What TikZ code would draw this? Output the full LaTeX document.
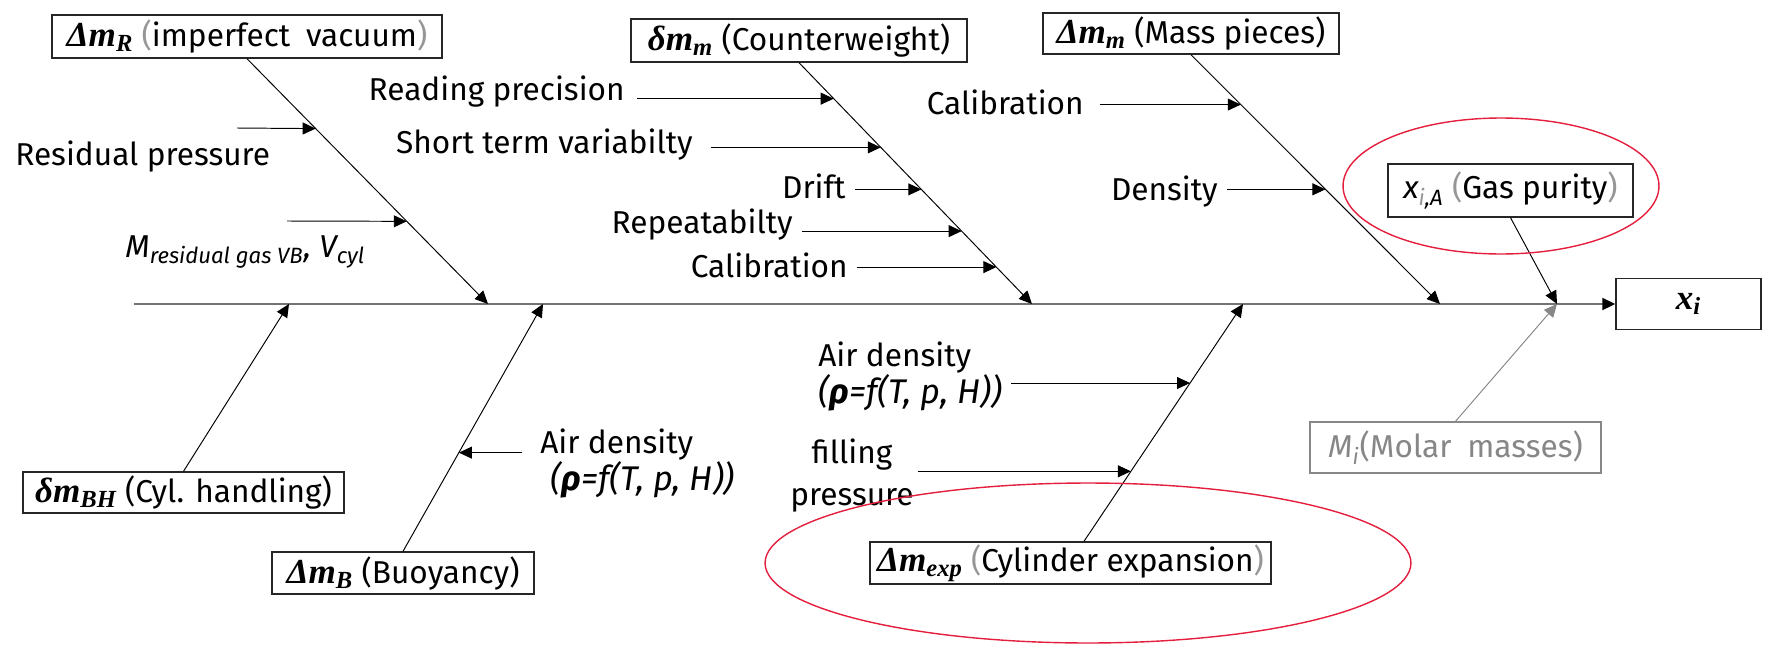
\documentclass[tikz,border=0pt]{standalone}
\usepackage{fontspec}
\setmainfont{Fira Sans}
\newfontfamily\boxserif{Liberation Serif}
\usetikzlibrary{arrows.meta, positioning, calc}

\definecolor{spinegray}{RGB}{115,115,115}
\definecolor{softgray}{RGB}{135,135,135}
\definecolor{parengray}{RGB}{150,150,150}
\definecolor{ringred}{RGB}{228,30,60}

\newcommand{\causesym}[2]{{\boxserif\fontsize{20}{22}\selectfont\bfseries\itshape #1\textsubscript{#2}}}
\newcommand{\gp}[1]{{\color{parengray}#1}}

\begin{document}
\begin{tikzpicture}[
    x = 0.02cm, y = -0.02cm,
    lbl/.style   = { font=\fontsize{18}{20}\selectfont, inner sep=0pt },
    cause/.style = { lbl, draw=black!85, line width=0.8pt, align=center },
    tip/.style   = { -{Triangle[length=7.4pt, width=6.8pt]} },
    spine/.style = { -{Triangle[length=7.4pt, width=6.8pt, color=black]},
                     draw=spinegray, line width=1.1pt },
    bone/.style  = { tip, draw=black, line width=0.55pt },
    ring/.style  = { draw=ringred, line width=0.8pt },
    airnote/.style = { lbl, font=\fontsize{18}{17}\selectfont, align=left, anchor=north west },
]

\useasboundingbox (0,0) rectangle (1791,646);

%% ── Cause boxes ──────────────────────────────────────────────────────────
\node[cause, minimum width=7.80cm, minimum height=0.86cm] (dmR) at (247,36.5)
    {\causesym{Δm}{R} \gp{(}imperfect\enspace vacuum\gp{)}};
\node[cause, minimum width=6.72cm, minimum height=0.86cm] (dmm) at (799,40.5)
    {\causesym{δm}{m} (Counterweight)};
\node[cause, minimum width=5.92cm, minimum height=0.82cm] (Dmm) at (1191,33.5)
    {\causesym{Δm}{m} (Mass pieces)};
\node[cause, minimum width=4.90cm, minimum height=1.06cm] (xiA) at (1510.5,190.5)
    {{\itshape x\textsubscript{\gp{i},A}} \gp{(}Gas purity\gp{)}};
\node[cause, minimum width=2.90cm, minimum height=1.02cm] (xi) at (1688.5,304)
    {\causesym{x}{i}};
\node[cause, draw=softgray, text=softgray, minimum width=5.82cm, minimum height=1.02cm] (Mi) at (1455.5,447.5)
    {{\itshape M\textsubscript{i}}(Molar\enspace masses)};
\node[cause, minimum width=8.02cm, minimum height=0.84cm] (dmexp) at (1070.5,563)
    {\causesym{Δm}{exp} \gp{(}Cylinder expansion\gp{)}};
\node[cause, minimum width=5.24cm, minimum height=0.84cm] (dmB) at (403,573)
    {\causesym{Δm}{B} (Buoyancy)};
\node[cause, minimum width=6.42cm, minimum height=0.82cm] (dmBH) at (183.5,492.5)
    {\causesym{δm}{BH} (Cyl. handling)};

%% ── Spine and joints ─────────────────────────────────────────────────────
\coordinate (head) at (134,304);
\coordinate (jBH)  at (289,304);
\coordinate (jR)   at (488,304);
\coordinate (jB)   at (543,304);
\coordinate (jm)   at (1032,304);
\coordinate (jexp) at (1243,304);
\coordinate (jM)   at (1440,304);
\coordinate (jA)   at (1557,304);
\coordinate (exptop) at ($(dmexp.north)+(13.5,0)$);

\draw[spine] (head) -- (xi.west);

%% ── Bones ────────────────────────────────────────────────────────────────
\draw[bone] (dmR.south) -- (jR);
\draw[bone] (dmm.south) -- (jm);
\draw[bone] (Dmm.south) -- (jM);
\draw[bone] (xiA.south) -- (jA);
\draw[bone, draw=softgray] (Mi.north) -- (jA);
\draw[bone] (exptop) -- (jexp);
\draw[bone] (dmB.north) -- (jB);
\draw[bone] (dmBH.north) -- (jBH);

\path (dmR.south) -- (jR) coordinate[pos=0.285] (bR1) coordinate[pos=0.663] (bR2);
\path (dmm.south) -- (jm) coordinate[pos=0.149] (bm1) coordinate[pos=0.351] (bm2)
    coordinate[pos=0.525] (bm3) coordinate[pos=0.698] (bm4) coordinate[pos=0.847] (bm5);
\path (Dmm.south) -- (jM) coordinate[pos=0.2] (bM1) coordinate[pos=0.54] (bM2);
\path (dmB.north) -- (jB) coordinate[pos=0.399] (bB1);
\path (exptop) -- (jexp) coordinate[pos=0.667] (bx1) coordinate[pos=0.295] (bx2);

%% ── Sub-causes ───────────────────────────────────────────────────────────
\node[lbl, anchor=base west] (lRes)  at (15,165)   {Residual pressure};
\node[lbl, anchor=base west] (lMres) at (125,257)
    {\itshape M\textsubscript{residual gas VB}, V\textsubscript{cyl}};
\node[lbl, anchor=base east] (lRead)  at (625,100)  {Reading precision};
\node[lbl, anchor=base east] (lShort) at (693,153)  {Short term variabilty};
\node[lbl, anchor=base east] (lDrift) at (846,198)  {Drift};
\node[lbl, anchor=base east] (lRep)   at (793,233)  {Repeatabilty};
\node[lbl, anchor=base east] (lCal1)  at (848,277)  {Calibration};
\node[lbl, anchor=base east] (lCal2)  at (1084,114) {Calibration};
\node[lbl, anchor=base east] (lDens)  at (1218,200) {Density};
\node[airnote] (lAirL) at (540,428)
    {Air density\\\hspace*{6pt}{\fontsize{19.5}{17}\selectfont\itshape(\textbf{ρ}=f(T, p, H))}};
\node[airnote] (lAirR) at (818,341)
    {Air density\\{\fontsize{19.5}{17}\selectfont\itshape(\textbf{ρ}=f(T, p, H))}};
\node[lbl, font=\fontsize{18}{24}\selectfont, align=center, anchor=north] (lFill) at (852,438)
    {filling\\pressure};

\coordinate (tR1) at (237,128);
\coordinate (tR2) at (287,221);

\draw[bone] (tR1) -- (bR1);
\draw[bone] (tR2) -- (bR2);
\draw[bone] ([xshift=7pt]lRead.east |- bm1)  -- (bm1);
\draw[bone] ([xshift=10pt]lShort.east |- bm2) -- (bm2);
\draw[bone] ([xshift=5pt]lDrift.east |- bm3) -- (bm3);
\draw[bone] ([xshift=5pt]lRep.east |- bm4)   -- (bm4);
\draw[bone] ([xshift=5pt]lCal1.east |- bm5)  -- (bm5);
\draw[bone] ([xshift=9pt]lCal2.east |- bM1)  -- (bM1);
\draw[bone] ([xshift=5pt]lDens.east |- bM2)  -- (bM2);
\draw[bone] ([xshift=-10pt]lAirL.west |- bB1) -- (bB1);
\draw[bone] ([xshift=5pt]lAirR.east |- bx1)  -- (bx1);
\draw[bone] ([xshift=2pt]lFill.east |- bx2)  -- (bx2);

%% ── Highlights ───────────────────────────────────────────────────────────
\draw[ring] (1501,186) ellipse [x radius=3.16cm, y radius=1.36cm];
\draw[ring] (1088,563) ellipse [x radius=6.46cm, y radius=1.6cm];

\end{tikzpicture}
\end{document}
